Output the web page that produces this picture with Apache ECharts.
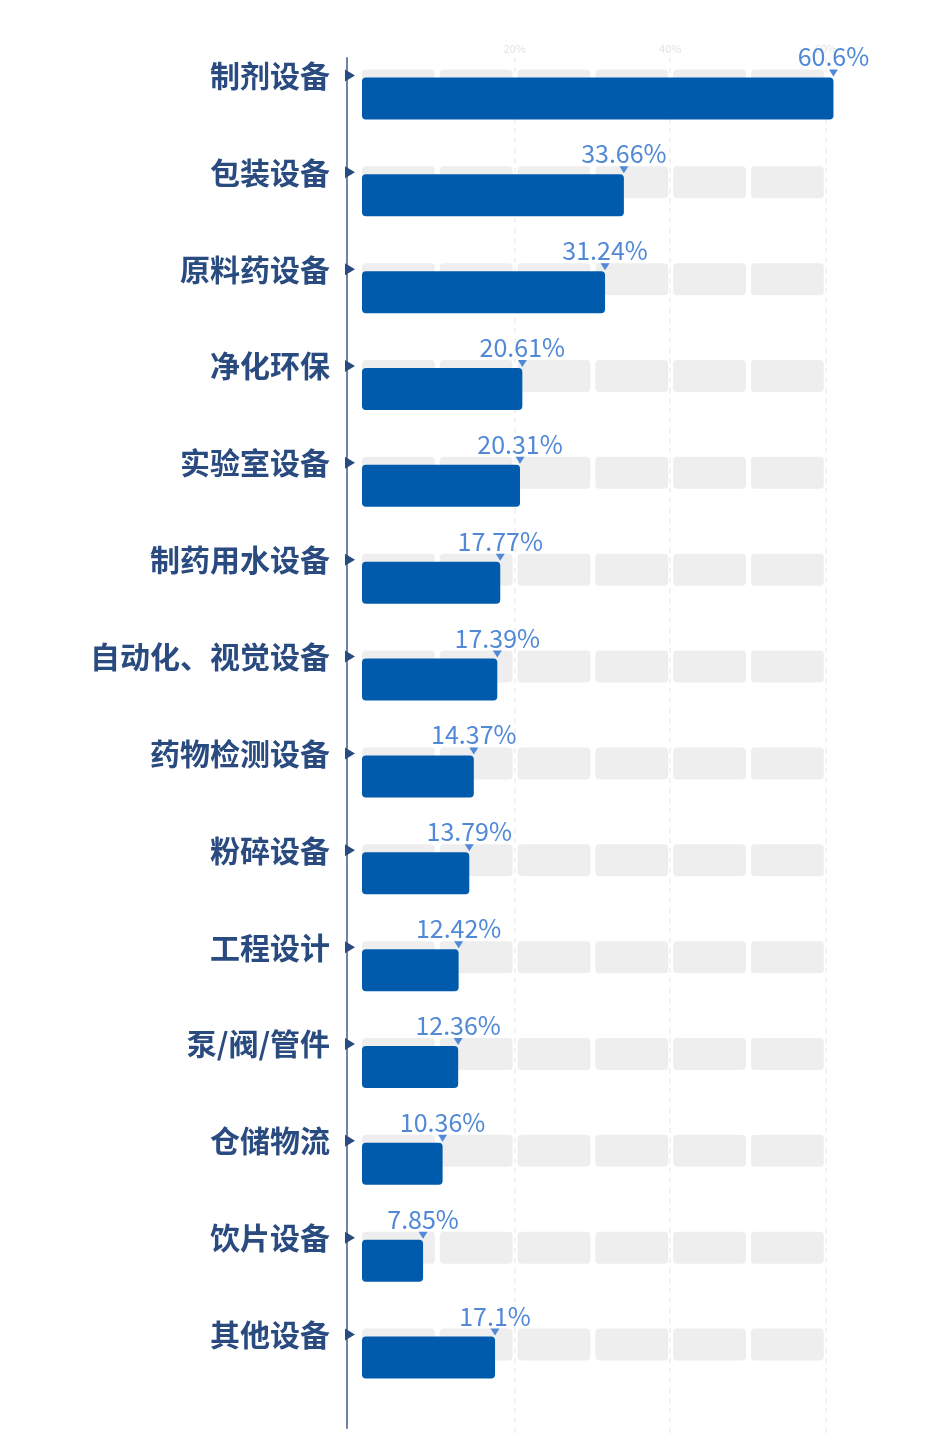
<!DOCTYPE html>
<html>
<head>
<meta charset="utf-8">
<script src="https://cdn.jsdelivr.net/npm/echarts@6/dist/echarts.min.js"></script>
<style>
html,body{margin:0;padding:0;background:#ffffff;}
#chart{width:951px;height:1438px;}
</style>
</head>
<body>
<div id="chart"></div>
<script>
// ---- data ----
const categories = ['制剂设备','包装设备','原料药设备','净化环保','实验室设备','制药用水设备','自动化、视觉设备','药物检测设备','粉碎设备','工程设计','泵/阀/管件','仓储物流','饮片设备','其他设备'];
const values = [60.6, 33.66, 31.24, 20.61, 20.31, 17.77, 17.39, 14.37, 13.79, 12.42, 12.36, 10.36, 7.85, 17.1];
const axisMin = 0;
const axisMax = 60;
const tickStep = 20;
const blockStep = 10;

// ---- styles ----
const FONT = '"Noto Sans CJK SC", "Noto Sans", sans-serif';
const BAR_COLOR = '#005bac';
const BLOCK_COLOR = '#eeeeee';
const LABEL_COLOR = '#5189d7';
const CAT_COLOR = '#2a4b80';

const chart = echarts.init(document.getElementById('chart'), null, {renderer: 'canvas'});

function renderItem(params, api) {
  const idx = api.value(1);
  const v = api.value(0);
  const origin = api.coord([axisMin, idx]);
  const x0 = origin[0];
  const yc = origin[1];
  const children = [];
  // background blocks
  for (let k = axisMin; k < axisMax; k += blockStep) {
    const xa = api.coord([k, idx])[0] + 3;
    const xb = api.coord([k + blockStep, idx])[0] - 2;
    children.push({
      type: 'rect',
      shape: {x: xa, y: yc - 6, width: xb - xa, height: 32, r: 4},
      style: {fill: BLOCK_COLOR}
    });
  }
  // value bar
  const xe = api.coord([v, idx])[0] + 3;
  children.push({
    type: 'rect',
    shape: {x: x0 + 3, y: yc + 2, width: xe - x0 - 3, height: 42, r: 4},
    style: {fill: BAR_COLOR}
  });
  // marker triangle above bar end
  children.push({
    type: 'polygon',
    shape: {points: [[xe - 4.5, yc - 6], [xe + 4.5, yc - 6], [xe, yc + 1]]},
    style: {fill: LABEL_COLOR}
  });
  // value text
  children.push({
    type: 'text',
    style: {
      x: xe, y: yc - 6,
      text: v + '%',
      fill: LABEL_COLOR,
      font: '25px ' + FONT,
      align: 'center',
      verticalAlign: 'bottom'
    }
  });
  // category arrow on axis
  children.push({
    type: 'polygon',
    shape: {points: [[x0 - 14, yc - 6], [x0 - 14, yc + 6], [x0 - 4, yc]]},
    style: {fill: CAT_COLOR}
  });
  return {type: 'group', children: children};
}

const option = {
  backgroundColor: '#ffffff',
  animation: false,
  grid: [
    {left: 359, right: 125.2, top: 27, bottom: 55, outerBoundsMode: 'none'},
    {left: 359, right: 125.2, top: 58, bottom: 0, outerBoundsMode: 'none'},
    {left: 359, right: 125.2, top: 58, bottom: 10, outerBoundsMode: 'none'}
  ],
  xAxis: [
    {gridIndex: 0, type: 'value', min: axisMin, max: axisMax, show: false},
    {
      gridIndex: 1, type: 'value', min: axisMin, max: axisMax, interval: tickStep,
      position: 'top',
      axisLine: {show: false}, axisTick: {show: false},
      axisLabel: {showMinLabel: false, formatter: '{value}%', fontSize: 11, color: '#e2e2e2', margin: 4, fontFamily: FONT},
      splitLine: {show: true, showMinLine: false, lineStyle: {color: '#eeeeee', type: [5, 5], width: 1.5}}
    },
    {gridIndex: 2, type: 'value', min: axisMin, max: axisMax, show: false}
  ],
  yAxis: [
    {
      gridIndex: 0, type: 'category', data: categories, inverse: true,
      axisLine: {show: false}, axisTick: {show: false},
      axisLabel: {margin: 29, fontSize: 30, fontWeight: 'bold', color: CAT_COLOR, fontFamily: FONT},
      splitLine: {show: false}
    },
    {gridIndex: 1, type: 'value', min: 0, max: 1, show: false},
    {
      gridIndex: 2, type: 'value', min: 0, max: 1, offset: 12,
      axisLine: {show: true, onZero: false, lineStyle: {color: '#7083a6', width: 2}},
      axisTick: {show: false}, axisLabel: {show: false}, splitLine: {show: false}
    }
  ],
  series: [{
    type: 'custom',
    xAxisIndex: 0,
    yAxisIndex: 0,
    data: values.map((v, i) => [v, i]),
    encode: {x: 0, y: 1},
    renderItem: renderItem,
    z: 5
  }]
};
chart.setOption(option);
</script>
</body>
</html>
